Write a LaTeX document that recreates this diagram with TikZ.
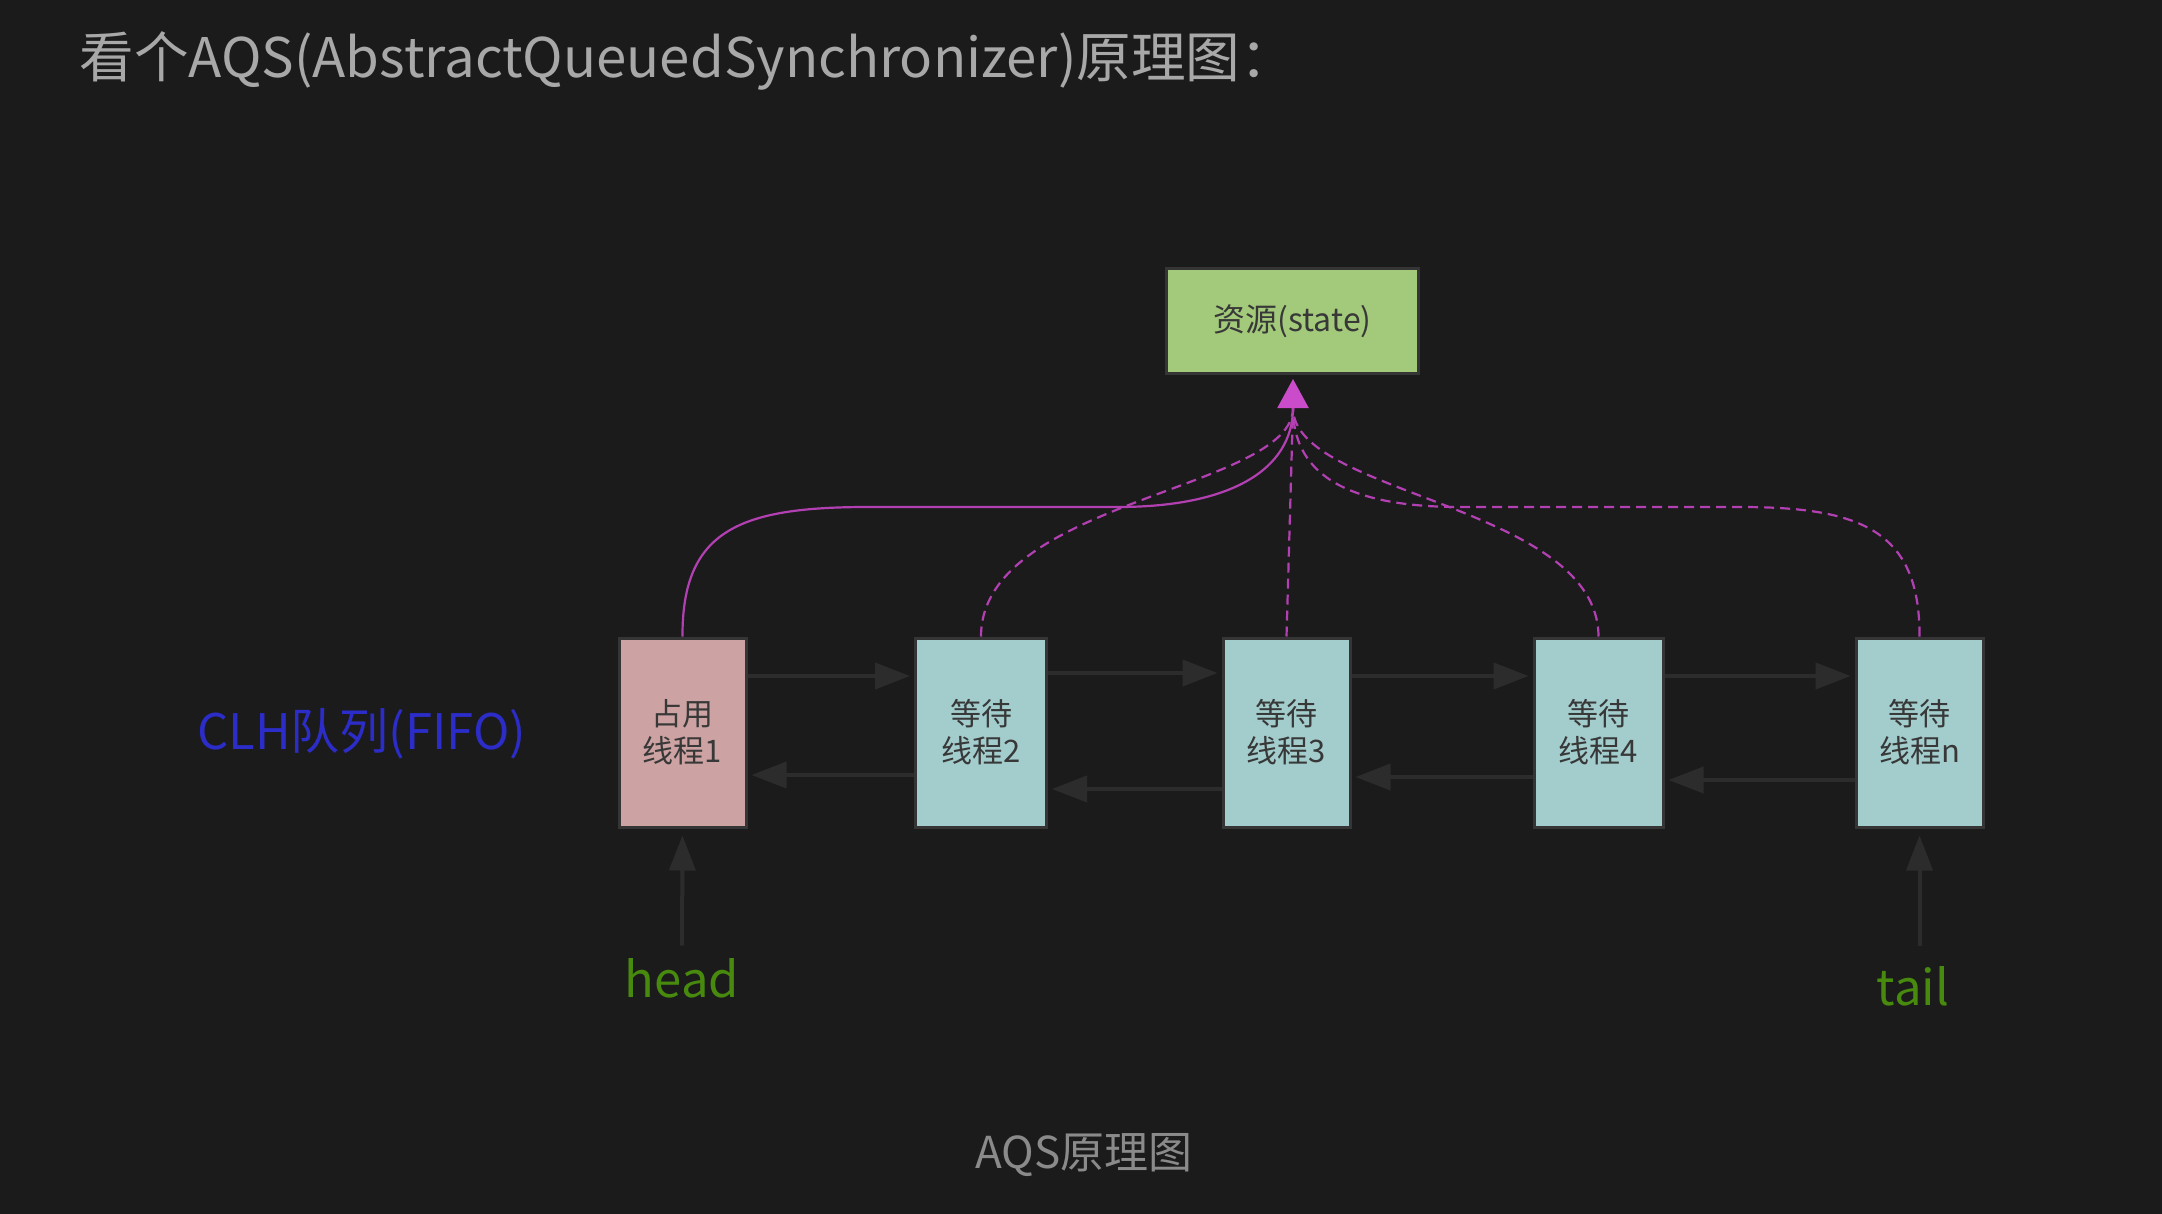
\documentclass[tikz,border=0pt]{standalone}
\usepackage{fontspec}
\newfontfamily\cjk{Noto Sans CJK SC}
\usetikzlibrary{arrows.meta}
\definecolor{bg}{HTML}{1B1B1B}
\definecolor{titlec}{HTML}{A8A8A8}
\definecolor{capc}{HTML}{8A8A8A}
\definecolor{pinkf}{HTML}{CDA2A2}
\definecolor{tealf}{HTML}{A3CDCD}
\definecolor{greenf}{HTML}{A2CA7A}
\definecolor{boxline}{HTML}{353535}
\definecolor{boxtext}{HTML}{383838}
\definecolor{grayarr}{HTML}{2C2C2C}
\definecolor{magline}{HTML}{B240B2}
\definecolor{magtip}{HTML}{CA4CCA}
\definecolor{bluec}{HTML}{2C2CC8}
\definecolor{greenc}{HTML}{478A0E}
\begin{document}
\begin{tikzpicture}[x=0.5pt,y=-0.5pt,
  thread/.style={draw=boxline, line width=1.5pt, minimum width=63.5pt, minimum height=94.5pt,
    inner sep=0pt, align=center, text=boxtext, font=\cjk\fontsize{15.5pt}{18.5pt}\selectfont},
  statebox/.style={draw=boxline, line width=1.5pt, fill=greenf, minimum width=126pt, minimum height=52.5pt,
    inner sep=0pt, text=boxtext, font=\cjk\fontsize{16pt}{19pt}\selectfont},
  garr/.style={draw=grayarr, line width=2pt, -{Triangle[length=17.5pt,width=13pt]}, shorten >=2pt},
  magsolid/.style={draw=magline, line width=1.1pt},
  magdash/.style={draw=magline, line width=1.1pt, dash pattern=on 5pt off 3pt},
  lbl/.style={inner sep=0pt}
]
\fill[bg] (0,0) rectangle (2162,1214);
\useasboundingbox (0,0) rectangle (2162,1214);

% title and caption
\node[lbl, anchor=base west, text=titlec, font=\cjk\fontsize{27.3pt}{32pt}\selectfont] (title) at (79,78)
  {看个AQS(AbstractQueuedSynchronizer)原理图：};
\node[lbl, anchor=base, text=capc, font=\cjk\fontsize{22pt}{26pt}\selectfont] (caption) at (1084,1168) {AQS原理图};

% resource
\node[statebox] (state) at (1292.5,321) {资源(state)};
\coordinate (tip) at (1293,379);
\coordinate (tipb) at (1293,408);

% threads
\node[thread, fill=pinkf] (b1) at (682.5,732.5) {占用\\线程1};
\node[thread, fill=tealf, minimum width=65.5pt] (b2) at (981,732.5) {等待\\线程2};
\node[thread, fill=tealf] (b3) at (1286.5,732.5) {等待\\线程3};
\node[thread, fill=tealf, minimum width=64.5pt] (b4) at (1598.5,732.5) {等待\\线程4};
\node[thread, fill=tealf] (bn) at (1919.5,732.5) {等待\\线程n};

% labels
\node[lbl, anchor=base west, text=bluec, font=\cjk\fontsize{24.5pt}{29pt}\selectfont] (clh) at (197,749) {CLH队列(FIFO)};
\node[lbl, anchor=base, text=greenc, font=\cjk\fontsize{24.5pt}{29pt}\selectfont] (head) at (682,997) {head};
\node[lbl, anchor=base, text=greenc, font=\cjk\fontsize{24.5pt}{29pt}\selectfont] (tail) at (1913,1005) {tail};

% queue links
\draw[garr] (b1.east |- 0,676) -- (b2.west |- 0,676);
\draw[garr] (b2.west |- 0,775) -- (b1.east |- 0,775);
\draw[garr] (b2.east |- 0,673) -- (b3.west |- 0,673);
\draw[garr] (b3.west |- 0,789) -- (b2.east |- 0,789);
\draw[garr] (b3.east |- 0,676) -- (b4.west |- 0,676);
\draw[garr] (b4.west |- 0,777) -- (b3.east |- 0,777);
\draw[garr] (b4.east |- 0,676) -- (bn.west |- 0,676);
\draw[garr] (bn.west |- 0,780) -- (b4.east |- 0,780);

% head / tail pointers
\draw[garr, shorten <=6pt, shorten >=3.5pt] (head.north) -- (b1.south);
\draw[garr, shorten <=10pt, shorten >=3.5pt] (tail.north -| bn.south) -- (bn.south);

% links to the resource
\draw[magdash] (b2.north) .. controls (981,500) and (1293,490) .. (tipb);
\draw[magdash] (b3.north) -- (tipb);
\draw[magdash] (b4.north) .. controls (1598,505) and (1293,495) .. (tipb);
\draw[magdash] (bn.north) .. controls (1920,530) and (1860,507) .. (1740,507) -- (1460,507)
  .. controls (1340,507) and (1293,470) .. (tipb);
\draw[magsolid, -{Triangle[length=14.5pt,width=15.5pt,color=magtip]}] (b1.north)
  .. controls (682,530) and (740,507) .. (868,507) -- (1118,507)
  .. controls (1230,507) and (1293,470) .. (tip);
\end{tikzpicture}
\end{document}
